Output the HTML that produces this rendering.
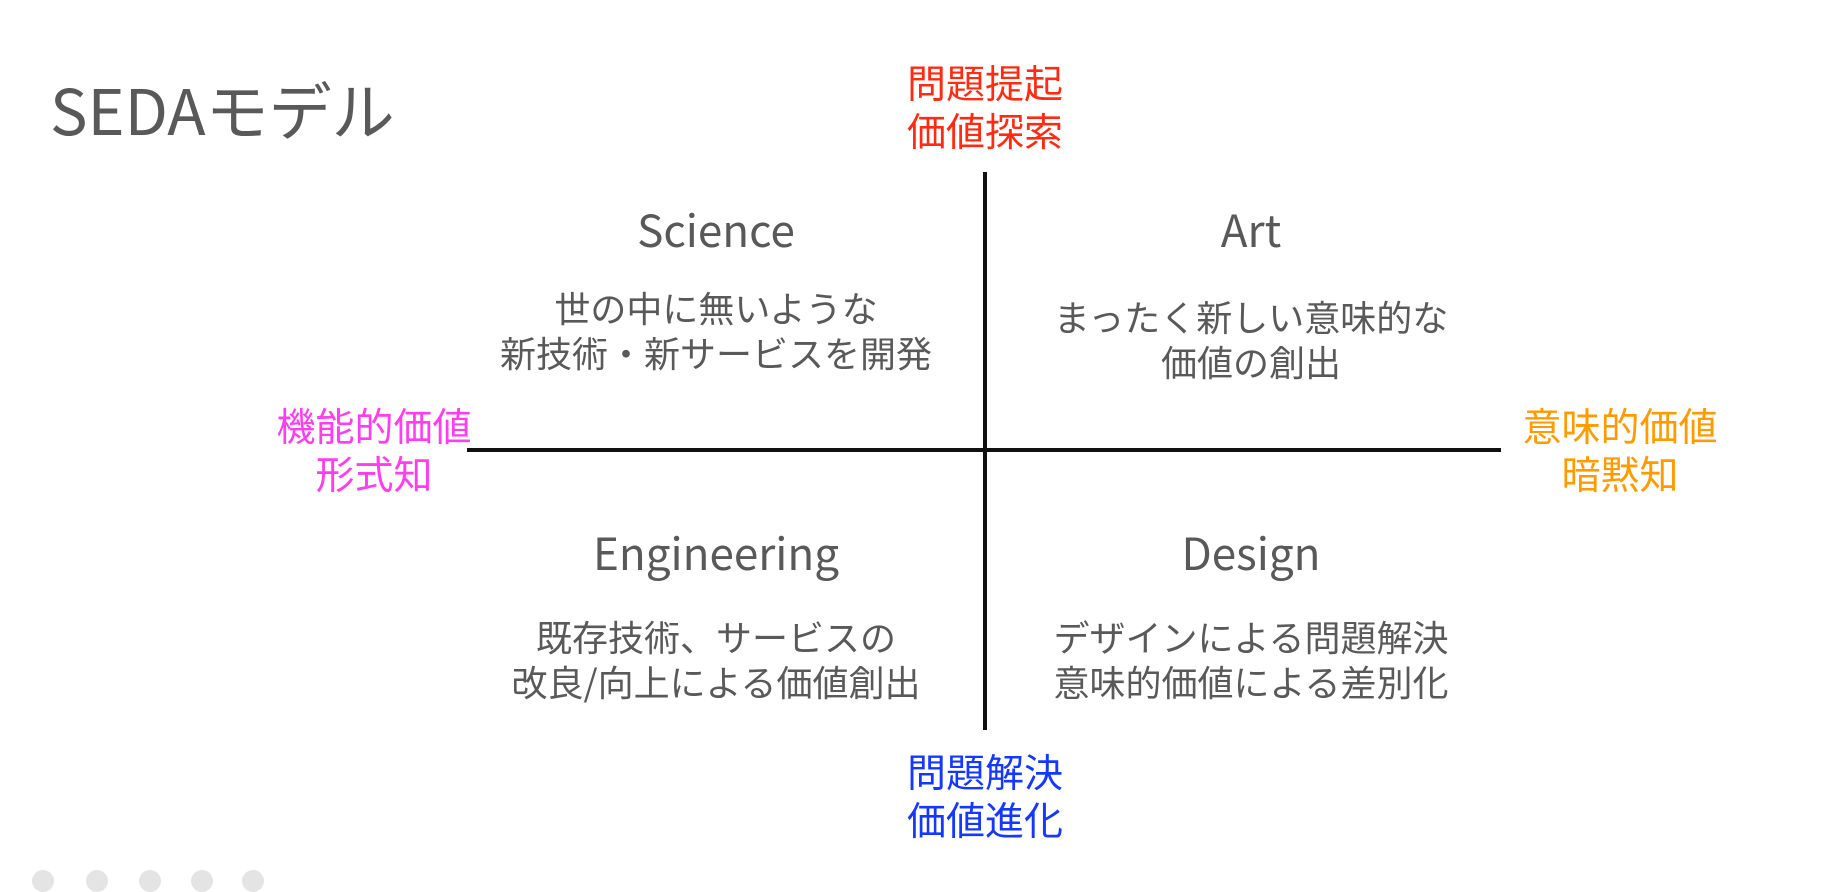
<!DOCTYPE html>
<html><head><meta charset="utf-8"><style>
html,body{margin:0;padding:0;background:#fff;}
body{width:1832px;height:877px;position:relative;overflow:hidden;font-family:"Liberation Sans","Noto Sans CJK JP",sans-serif;}
.t{position:absolute;text-align:center;white-space:nowrap;transform:translateX(-50%);}
.jp{font-family:"Noto Sans CJK JP",sans-serif;}
.lab{font-size:39px;line-height:48px;}
.h{font-size:44px;color:#595959;line-height:50px;}
.d{font-size:36px;color:#595959;line-height:45px;}
.dot{position:absolute;width:22px;height:22px;border-radius:50%;background:#e4e4e4;top:870px;}
</style></head><body>
<div style="position:absolute;left:50px;top:72px;font-size:63px;color:#595959;line-height:74px;" class="jp">SEDAモデル</div>
<div style="position:absolute;left:983px;top:172px;width:4px;height:558px;background:#111;"></div>
<div style="position:absolute;left:467px;top:448px;width:1034px;height:4px;background:#111;"></div>
<div class="t jp lab" style="left:985px;top:58px;color:#ff2a10;">問題提起<br>価値探索</div>
<div class="t jp lab" style="left:985px;top:747px;color:#1438ff;">問題解決<br>価値進化</div>
<div class="t jp lab" style="left:374px;top:401px;color:#ff3cf0;">機能的価値<br>形式知</div>
<div class="t jp lab" style="left:1620px;top:401px;color:#ff9a00;">意味的価値<br>暗黙知</div>
<div class="t jp h" style="left:716px;top:203px;">Science</div>
<div class="t jp h" style="left:1251px;top:203px;">Art</div>
<div class="t jp h" style="left:716px;top:526px;">Engineering</div>
<div class="t jp h" style="left:1251px;top:526px;">Design</div>
<div class="t jp d" style="left:716px;top:285px;">世の中に無いような<br>新技術・新サービスを開発</div>
<div class="t jp d" style="left:1251px;top:294px;">まったく新しい意味的な<br>価値の創出</div>
<div class="t jp d" style="left:716px;top:614px;">既存技術、サービスの<br>改良/向上による価値創出</div>
<div class="t jp d" style="left:1251px;top:614px;">デザインによる問題解決<br>意味的価値による差別化</div>
<div class="dot" style="left:32px"></div><div class="dot" style="left:86px"></div><div class="dot" style="left:139px"></div><div class="dot" style="left:191px"></div><div class="dot" style="left:242px"></div>
</body></html>
